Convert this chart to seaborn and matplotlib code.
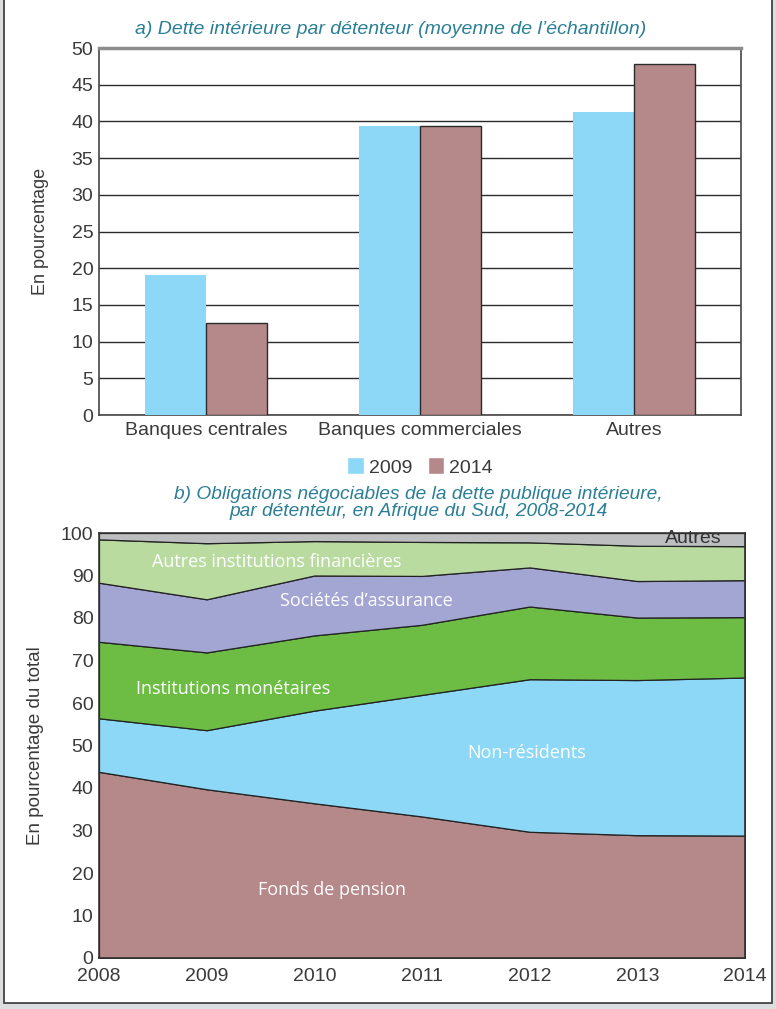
import numpy as np
import pandas as pd
import seaborn as sns
import matplotlib.pyplot as plt
from matplotlib.patches import Rectangle

# --- data, panel a
detenteurs = ['Banques centrales', 'Banques commerciales', 'Autres']
val_2009 = [19.1, 39.4, 41.3]
val_2014 = [12.6, 39.4, 47.8]

# --- data, panel b
annees = [2008, 2009, 2010, 2011, 2012, 2013, 2014]
fonds_pension = [43.8, 39.7, 36.4, 33.3, 29.7, 28.9, 28.8]
non_residents = [12.6, 13.9, 21.8, 28.6, 35.9, 36.5, 37.2]
inst_monetaires = [18.0, 18.3, 17.7, 16.5, 17.1, 14.7, 14.2]
soc_assurance = [13.9, 12.5, 14.1, 11.5, 9.2, 8.6, 8.7]
autres_inst_fin = [10.2, 13.2, 8.1, 8.0, 5.9, 8.3, 8.0]
autres = [1.5, 2.4, 1.9, 2.1, 2.2, 3.0, 3.1]

BLEU = '#8dd8f6'
ROSE = '#b5888a'
VERT = '#6dbd45'
LAVANDE = '#a3a5d3'
VERT_CLAIR = '#b9dba0'
GRIS = '#bdbec0'
TITRE = '#2a7f96'
TXT = '#3a3a3a'

sns.set_theme(style='white')
plt.rcParams['font.family'] = ['Liberation Sans', 'DejaVu Sans']

fig = plt.figure(figsize=(7.76, 10.09), dpi=100)
fig.patch.set_facecolor('#dcdddf')
fig.patches.append(Rectangle((4/776, 6/1009), 768/776, 1.1, transform=fig.transFigure,
                             facecolor='white', edgecolor='#444444', lw=1.3, zorder=-10))

# ---------- panel a
ax1 = fig.add_axes([99/776, 1 - 415/1009, 642/776, 367/1009])
df = pd.DataFrame({'cat': detenteurs * 2,
                   'val': val_2009 + val_2014,
                   'annee': ['2009'] * 3 + ['2014'] * 3})
sns.barplot(data=df, x='cat', y='val', hue='annee', palette=[BLEU, ROSE],
            width=0.57, ax=ax1, zorder=3, saturation=1)
for i, p in enumerate(ax1.patches[:6]):
    if i >= 3:
        p.set_edgecolor('#2b2b2b')
        p.set_linewidth(1.0)
    else:
        p.set_edgecolor('none')
ax1.set_ylim(0, 50)
ax1.set_yticks(range(0, 51, 5))
ax1.yaxis.grid(True, color='#2b2b2b', lw=1.0, zorder=0)
ax1.set_axisbelow(True)
ax1.set_xlabel('')
ax1.set_ylabel('En pourcentage', fontsize=13, color=TXT, labelpad=16)
ax1.tick_params(axis='both', length=0, labelsize=14, colors=TXT, pad=4)
ax1.tick_params(axis='x', pad=5)
for s in ['left', 'bottom', 'right']:
    ax1.spines[s].set_color('#444444')
    ax1.spines[s].set_linewidth(1.2)
ax1.spines['top'].set_color('#8c8c8c')
ax1.spines['top'].set_linewidth(2.5)
leg = ax1.legend(loc='upper center', bbox_to_anchor=(0.5, -0.068), ncol=2, frameon=False,
                 fontsize=14, handlelength=0.85, handleheight=0.95, handletextpad=0.25,
                 columnspacing=0.8, labelcolor=TXT)
ax1.set_title("a) Dette intérieure par détenteur (moyenne de l’échantillon)",
              fontsize=14, style='italic', color=TITRE, pad=10, x=0.455)

# ---------- panel b
ax2 = fig.add_axes([99/776, 1 - 958/1009, 646/776, 425/1009])
series = [fonds_pension, non_residents, inst_monetaires, soc_assurance, autres_inst_fin, autres]
couleurs = [ROSE, BLEU, VERT, LAVANDE, VERT_CLAIR, GRIS]
ax2.stackplot(annees, *series, colors=couleurs, edgecolor='#222222', lw=0.9)
ax2.set_xlim(2008, 2014)
ax2.set_ylim(0, 100)
ax2.set_yticks(range(0, 101, 10))
ax2.set_xticks(annees)
ax2.set_ylabel('En pourcentage du total', fontsize=13.5, color=TXT, labelpad=12)
ax2.tick_params(axis='both', length=0, labelsize=14, colors=TXT, pad=4)
ax2.tick_params(axis='x', pad=7)
for s in ax2.spines.values():
    s.set_color('#333333')
    s.set_linewidth(1.2)
ax2.set_title("b) Obligations négociables de la dette publique intérieure,\n"
              "par détenteur, en Afrique du Sud, 2008-2014",
              fontsize=13.8, style='italic', color=TITRE, pad=12, linespacing=1.05, x=0.495)

lab = dict(color='white', fontsize=13, family=['Open Sans', 'DejaVu Sans'], ha='center', va='center')
ax2.text(2009.65, 93.2, 'Autres institutions financières', **lab)
ax2.text(2010.48, 84.0, 'Sociétés d’assurance', **lab)
ax2.text(2009.25, 63.2, 'Institutions monétaires', **lab)
ax2.text(2011.97, 48.3, 'Non-résidents', **lab)
ax2.text(2010.16, 16.0, 'Fonds de pension', **lab)
ax2.text(2013.52, 98.6, 'Autres', color='#333333', fontsize=14, ha='center', va='center')

fig.savefig('out.png', dpi=100, facecolor=fig.get_facecolor())
